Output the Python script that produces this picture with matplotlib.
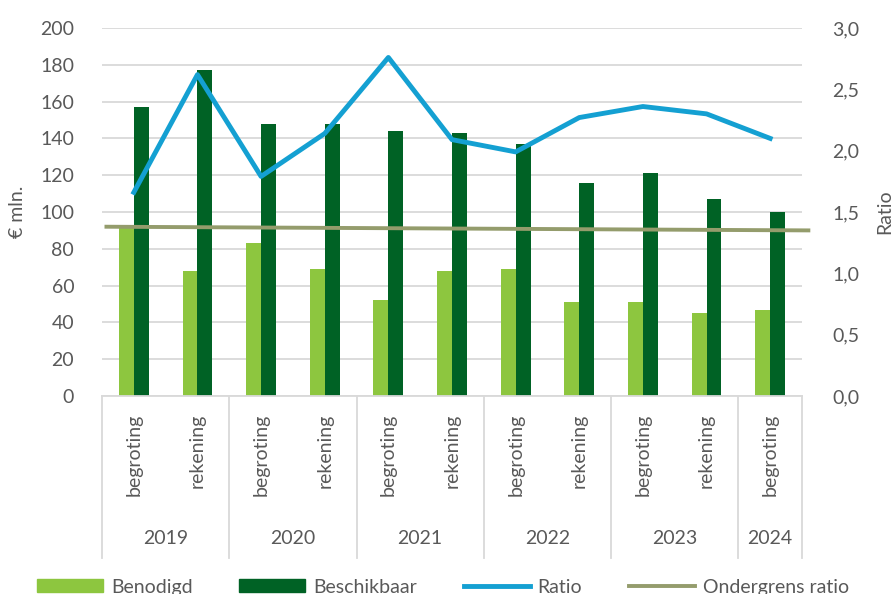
import numpy as np
import matplotlib
matplotlib.use("Agg")
import matplotlib.pyplot as plt
from matplotlib.lines import Line2D
from matplotlib.patches import Patch

# data
years = ["2019", "2020", "2021", "2022", "2023", "2024"]
year_spans = [2, 2, 2, 2, 2, 1]
kinds = ["begroting", "rekening", "begroting", "rekening", "begroting", "rekening",
         "begroting", "rekening", "begroting", "rekening", "begroting"]
benodigd = [92, 68, 83, 69, 52, 68, 69, 51, 51, 45, 47]
beschikbaar = [157, 177, 148, 148, 144, 143, 137, 116, 121, 107, 100]
ratio = [1.66, 2.62, 1.79, 2.14, 2.76, 2.09, 1.99, 2.27, 2.36, 2.30, 2.10]
ondergrens = [1.38, 1.35]  # start / end of the lower-limit line

c_light = "#8DC63F"
c_dark = "#006225"
c_ratio = "#14A0D2"
c_grens = "#949C6C"
c_text = "#595959"
c_grid = "#D9D9D9"
fs = 14

plt.rcParams["font.family"] = ["Lato", "DejaVu Sans"]

fig = plt.figure(figsize=(8.93, 5.94), dpi=100)
ax = fig.add_axes([102 / 893, 1 - 396 / 594, 700 / 893, 368 / 594])
ax2 = ax.twinx()

x = np.arange(len(kinds))
w = 0.235
ax.bar(x - w / 2, benodigd, w, color=c_light, zorder=2)
ax.bar(x + w / 2, beschikbaar, w, color=c_dark, zorder=2)

ax.set_xlim(-0.5, len(kinds) - 0.5)
ax.set_ylim(0, 200)
ax.set_yticks(np.arange(0, 201, 20))
ax.yaxis.grid(True, color=c_grid, linewidth=1.3)
ax.set_axisbelow(True)
ax.tick_params(axis="y", length=0, pad=20, labelsize=fs, labelcolor=c_text)
ax.set_ylabel("€ mln.", fontsize=fs, color=c_text, labelpad=10)
for s in ["top", "right", "left"]:
    ax.spines[s].set_visible(False)
ax.spines["bottom"].set_color(c_grid)
ax.spines["bottom"].set_linewidth(1.3)

# category labels (two levels)
ax.set_xticks(x)
ax.set_xticklabels(kinds, rotation=90, fontsize=fs, color=c_text, va="top")
ax.tick_params(axis="x", length=0, pad=13)

trans = ax.get_xaxis_transform()
bounds = np.concatenate([[0], np.cumsum(year_spans)]) - 0.5
for b in bounds:
    ax.plot([b, b], [0, -0.44], transform=trans, color=c_grid, lw=1.3, clip_on=False)
for i, yr in enumerate(years):
    mid = (bounds[i] + bounds[i + 1]) / 2
    ax.text(mid, -0.387, yr, transform=trans, ha="center", va="center",
            fontsize=fs, color=c_text)

# right axis
ax2.plot(x, ratio, color=c_ratio, lw=3.5, zorder=4)
ax2.plot([-0.43, len(kinds) - 0.4], ondergrens, color=c_grens, lw=2.8,
         zorder=3, clip_on=False)
ax2.set_ylim(0, 3.0)
ax2.set_yticks(np.arange(0, 3.01, 0.5))
ax2.set_yticklabels([f"{v:.1f}".replace(".", ",") for v in np.arange(0, 3.01, 0.5)])
ax2.tick_params(axis="y", length=0, pad=22, labelsize=fs, labelcolor=c_text)
ax2.set_ylabel("Ratio", fontsize=fs, color=c_text, labelpad=12)
for s in ax2.spines.values():
    s.set_visible(False)

handles = [
    Patch(color=c_light, label="Benodigd"),
    Patch(color=c_dark, label="Beschikbaar"),
    Line2D([], [], color=c_ratio, lw=3.5, label="Ratio"),
    Line2D([], [], color=c_grens, lw=2.8, label="Ondergrens ratio"),
]
fig.legend(handles=handles, loc="lower left", bbox_to_anchor=(0.022, -0.032),
           ncol=4, frameon=False, fontsize=fs, labelcolor=c_text,
           handlelength=3.4, handleheight=0.6, handletextpad=0.4,
           columnspacing=2.4)

fig.savefig("out.png", dpi=100)
